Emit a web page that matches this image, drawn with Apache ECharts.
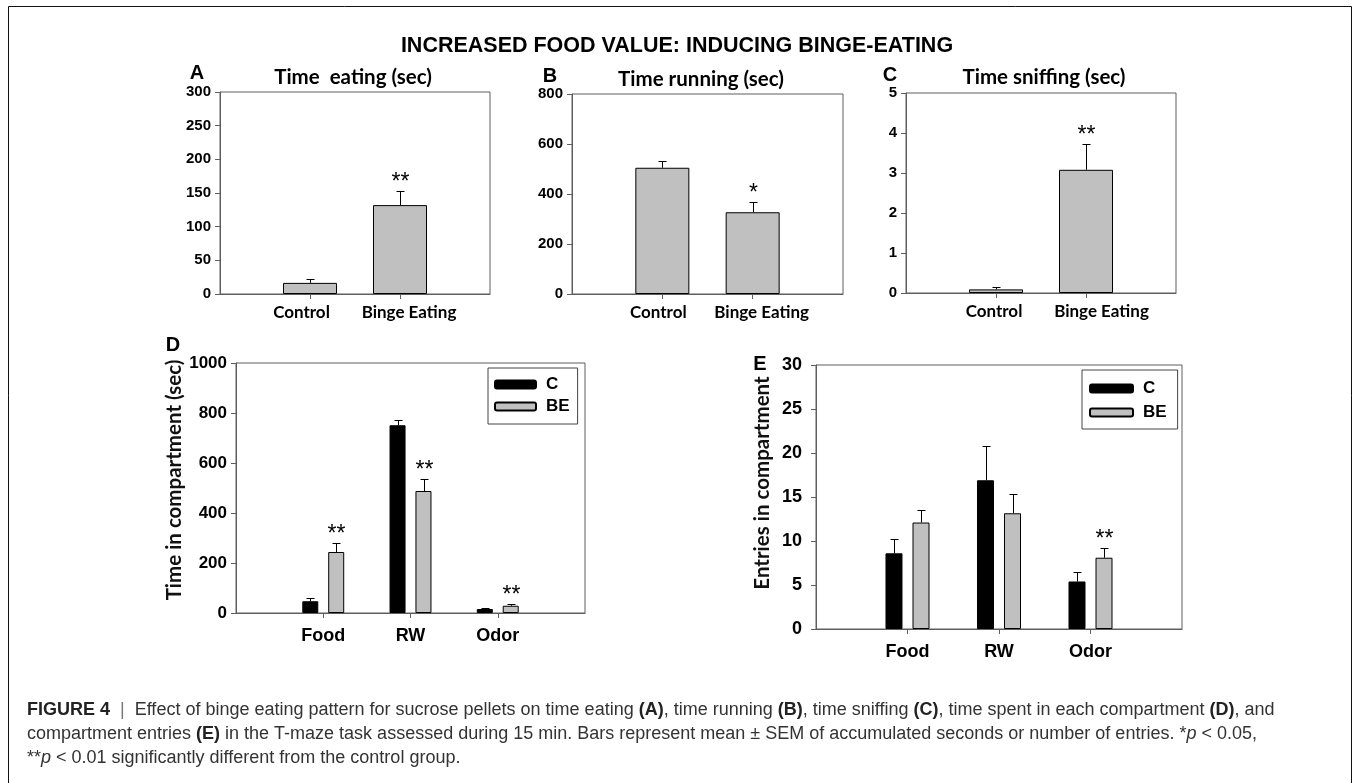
<!DOCTYPE html>
<html><head><meta charset="utf-8">
<script src="https://cdn.jsdelivr.net/npm/echarts@6/dist/echarts.min.js"></script>
<style>html,body{margin:0;padding:0;background:#fff}#c{width:1354px;height:783px}</style>
</head><body><div id="c"></div>
<script>
// ---------- data ----------
const groupCats = ['Control', 'Binge Eating'];
const eatMean = [16.5, 132];
const eatSem = [6.5, 21];
const eatSig = ['', '**'];
const runMean = [505, 327];
const runSem = [26, 40];
const runSig = ['', '*'];
const sniffMean = [0.09, 3.08];
const sniffSem = [0.06, 0.64];
const sniffSig = ['', '**'];

const compartments = ['Food', 'RW', 'Odor'];
const timeC = [47, 751, 16];
const timeCSem = [12, 21, 5];
const timeBE = [244, 488, 29];
const timeBESem = [36, 47, 8];
const timeBESig = ['**', '**', '**'];
const entriesC = [8.6, 16.9, 5.4];
const entriesCSem = [1.6, 3.95, 1.05];
const entriesBE = [12.1, 13.15, 8.1];
const entriesBESem = [1.45, 2.2, 1.05];
const entriesBESig = ['', '', '**'];

const ticksA = [0, 50, 100, 150, 200, 250, 300];
const ticksB = [0, 200, 400, 600, 800];
const ticksC = [0, 1, 2, 3, 4, 5];
const ticksD = [0, 200, 400, 600, 800, 1000];
const ticksE = [0, 5, 10, 15, 20, 25, 30];

// ---------- helpers ----------
const ARIAL = 'Liberation Sans, Arial, sans-serif';
const CALI = 'Lato, Open Sans, sans-serif';
const AXC = '#5e5e5e';
const pad = a => ['-'].concat(a, ['-']);
const padCats = a => [''].concat(a, ['']);
const showInner = n => (i) => i > 0 && i < n + 1;

const grids = [
  {left: 220, top: 92, width: 270, height: 202},
  {left: 572, top: 94, width: 271, height: 200},
  {left: 906, top: 93, width: 270, height: 200},
  {left: 236, top: 363, width: 349, height: 250},
  {left: 816, top: 365, width: 366, height: 264}
].map(g => Object.assign(g, {show: true, borderColor: AXC, borderWidth: 1}));

function xAxisFor(gi, cats, labelFont, fontSize, margin, shifts) {
  const lbl = {interval: showInner(cats.length), color: '#000', fontFamily: labelFont,
    fontWeight: 'bold', fontSize: fontSize, margin: margin};
  if (shifts) {
    const rich = {};
    cats.forEach((c, i) => {
      const s = shifts[i];
      rich['k' + i] = {fontFamily: labelFont, fontWeight: 'bold', fontSize: fontSize, color: '#000',
        padding: s < 0 ? [0, -2 * s, 0, 0] : [0, 0, 0, 2 * s]};
    });
    lbl.rich = rich;
    lbl.formatter = v => { const i = cats.indexOf(v); return i < 0 ? '' : '{k' + i + '|' + v + '}'; };
  }
  return {
    type: 'category', gridIndex: gi, boundaryGap: false, data: padCats(cats),
    axisLine: {lineStyle: {color: AXC, width: 1}},
    axisTick: {interval: showInner(cats.length), length: 5, lineStyle: {color: AXC}},
    axisLabel: lbl,
    splitLine: {show: false}
  };
}
function yAxisFor(gi, ticks, fontSize, margin, name, nameGap, nameShift) {
  const ax = {
    type: 'value', gridIndex: gi, min: ticks[0], max: ticks[ticks.length - 1],
    interval: ticks[1] - ticks[0],
    axisLine: {show: true, lineStyle: {color: AXC, width: 1}},
    axisTick: {show: true, length: 5, lineStyle: {color: AXC}},
    axisLabel: {color: '#000', fontFamily: ARIAL, fontWeight: 'bold', fontSize: fontSize, margin: margin,
      formatter: v => String(v)},
    splitLine: {show: false}
  };
  if (name) {
    Object.assign(ax, {name: name, nameLocation: 'middle', nameGap: nameGap,
      nameTextStyle: {fontFamily: CALI, fontWeight: 'bold', fontSize: 20.5, color: '#111',
        padding: [0, 0, 0, 2 * nameShift]}});
  }
  return ax;
}

const greyStyle = {color: '#c0c0c0', borderColor: '#000', borderWidth: 1};
const blackStyle = {color: '#000', borderColor: '#000', borderWidth: 1};

function barSeries(gi, name, values, width, style, gap) {
  const s = {type: 'bar', name: name, xAxisIndex: gi, yAxisIndex: gi, data: pad(values),
    barWidth: width, itemStyle: style, silent: true, animation: false};
  if (gap) s.barGap = gap;
  return s;
}
function errSeries(gi, means, sems, sigs, offset) {
  return {
    type: 'custom', xAxisIndex: gi, yAxisIndex: gi, z: 5, silent: true, animation: false,
    data: means.map((m, i) => [i + 1, m, sems[i]]),
    renderItem: function (params, api) {
      const idx = api.value(0), m = api.value(1), s = api.value(2);
      const b = api.coord([idx, m]);
      const t = api.coord([idx, m + s]);
      const x = Math.round(b[0] + offset) + 0.5;
      const ty = Math.round(t[1]) + 0.5;
      const children = [
        {type: 'line', shape: {x1: x, y1: b[1], x2: x, y2: ty}, style: {stroke: '#000', lineWidth: 1}},
        {type: 'line', shape: {x1: x - 4, y1: ty, x2: x + 4, y2: ty}, style: {stroke: '#000', lineWidth: 1}}
      ];
      const sig = sigs ? sigs[params.dataIndex] : '';
      if (sig) {
        children.push({type: 'text', style: {text: sig, x: x, y: ty - 9, align: 'center',
          verticalAlign: 'middle', fontSize: 23, fontFamily: ARIAL, fill: '#000'}});
      }
      return {type: 'group', children: children};
    }
  };
}

function gtext(x, y, text, size, family, weight, align) {
  return {type: 'text', x: x, y: y, silent: true,
    style: {text: text, fontSize: size, fontFamily: family, fontWeight: weight || 'bold',
      fill: '#000', align: align || 'center', verticalAlign: 'middle'}};
}
const CAPF = 18;
const capRich = {
  b: {fontFamily: ARIAL, fontSize: CAPF, fontWeight: 'bold', fill: '#222'},
  s: {fontFamily: ARIAL, fontSize: CAPF, fill: '#777'},
  i: {fontFamily: ARIAL, fontSize: CAPF, fontStyle: 'italic', fill: '#333'}
};
function capLine(y, text) {
  return {type: 'text', x: 27, y: y, silent: true,
    style: {text: text, rich: capRich, fontFamily: ARIAL, fontSize: CAPF, fill: '#333',
      align: 'left', verticalAlign: 'middle'}};
}

function legendFor(left, top, sw, gap, padding) {
  return {
    left: left, top: top, padding: padding,
    orient: 'vertical', itemWidth: sw, itemHeight: 8, itemGap: gap,
    borderColor: '#444', borderWidth: 1, selectedMode: false,
    textStyle: {fontFamily: ARIAL, fontWeight: 'bold', fontSize: 17, color: '#000', padding: [0, 0, 0, 5]},
    data: ['C', 'BE']
  };
}

const option = {
  animation: false,
  backgroundColor: '#fff',
  title: {text: 'INCREASED FOOD VALUE: INDUCING BINGE-EATING', left: 'center', top: 30,
    textStyle: {fontFamily: ARIAL, fontWeight: 'bold', fontSize: 21.5, color: '#000'}},
  grid: grids,
  xAxis: [
    xAxisFor(0, groupCats, CALI, 17, 10, [-8.5, 9]),
    xAxisFor(1, groupCats, CALI, 17, 10, [-4, 9]),
    xAxisFor(2, groupCats, CALI, 17, 10, [-2, 15.5]),
    xAxisFor(3, compartments, ARIAL, 18, 14),
    xAxisFor(4, compartments, ARIAL, 18, 14)
  ],
  yAxis: [
    yAxisFor(0, ticksA, 15, 9),
    yAxisFor(1, ticksB, 15, 9),
    yAxisFor(2, ticksC, 15, 9),
    yAxisFor(3, ticksD, 17, 9, 'Time in compartment (sec)', 50, 8),
    yAxisFor(4, ticksE, 18, 14, 'Entries in compartment', 43, 14)
  ],
  legend: [
    legendFor(488, 368, 41, 5, [8, 8, 9, 6]),
    legendFor(1082, 370, 43, 7, [10, 11, 8, 7])
  ],
  series: [
    barSeries(0, 'Time eating', eatMean, 54, greyStyle),
    errSeries(0, eatMean, eatSem, eatSig, 0),
    barSeries(1, 'Time running', runMean, 54, greyStyle),
    errSeries(1, runMean, runSem, runSig, 0),
    barSeries(2, 'Time sniffing', sniffMean, 54, greyStyle),
    errSeries(2, sniffMean, sniffSem, sniffSig, 0),
    barSeries(3, 'C', timeC, 16, blackStyle, '62%'),
    barSeries(3, 'BE', timeBE, 16, greyStyle, '62%'),
    errSeries(3, timeC, timeCSem, null, -13),
    errSeries(3, timeBE, timeBESem, timeBESig, 13),
    barSeries(4, 'C', entriesC, 17, blackStyle, '59%'),
    barSeries(4, 'BE', entriesBE, 17, greyStyle, '59%'),
    errSeries(4, entriesC, entriesCSem, null, -13.5),
    errSeries(4, entriesBE, entriesBESem, entriesBESig, 13.5)
  ],
  graphic: [
    {type: 'rect', silent: true, shape: {x: 8.5, y: 6.5, width: 1343, height: 800},
      style: {fill: 'none', stroke: '#111', lineWidth: 1}},
    gtext(197, 73, 'A', 20, ARIAL),
    gtext(550, 76, 'B', 20, ARIAL),
    gtext(890, 75, 'C', 20, ARIAL),
    gtext(173, 345, 'D', 20, ARIAL),
    gtext(760, 364, 'E', 20, ARIAL),
    gtext(353, 77, 'Time  eating (sec)', 20.5, CALI),
    gtext(701, 79, 'Time running (sec)', 20.5, CALI),
    gtext(1044, 77, 'Time sniffing (sec)', 20.5, CALI),
    capLine(710, '{b|FIGURE 4}  {s||}  Effect of binge eating pattern for sucrose pellets on time eating {b|(A)}, time running {b|(B)}, time sniffing {b|(C)}, time spent in each compartment {b|(D)}, and'),
    capLine(734, 'compartment entries {b|(E)} in the T-maze task assessed during 15 min. Bars represent mean \u00b1 SEM of accumulated seconds or number of entries. *{i|p} < 0.05,'),
    capLine(758, '**{i|p} < 0.01 significantly different from the control group.')
  ]
};
const chart = echarts.init(document.getElementById('c'), null, {renderer: 'canvas'});
chart.setOption(option);
</script>
</body></html>
